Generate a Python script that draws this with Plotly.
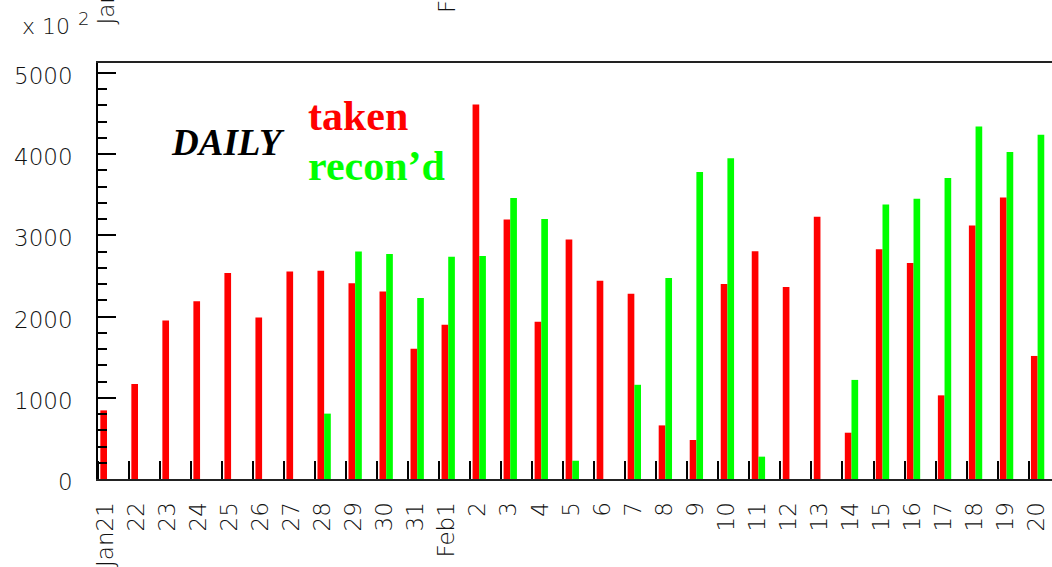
import plotly.graph_objects as go

# Day labels along the time axis
day_labels = ["Jan21", "22", "23", "24", "25", "26", "27", "28", "29", "30", "31",
              "Feb1", "2", "3", "4", "5", "6", "7", "8", "9", "10",
              "11", "12", "13", "14", "15", "16", "17", "18", "19", "20"]

# Daily counts (axis units of x 10^2)
taken = [845, 1170, 1950, 2190, 2535, 1990, 2555, 2565, 2410, 2310, 1605,
         1900, 4610, 3195, 1935, 2950, 2440, 2280, 660, 480, 2400,
         2805, 2365, 3230, 570, 2830, 2660, 1030, 3120, 3465, 1515]
recond = [0, 0, 0, 0, 0, 0, 0, 805, 2800, 2770, 2230,
          2735, 2745, 3460, 3200, 225, 0, 1160, 2475, 3780, 3950,
          275, 0, 0, 1220, 3380, 3450, 3705, 4340, 4025, 4240]

y_ticks = [0, 1000, 2000, 3000, 4000, 5000]

W, H = 1052, 567
ML, MR, MT, MB = 98, 0, 63, 84
PW, PH = W - ML - MR, H - MT - MB
BIN_PX = 31.02          # pixel width of one day bin
X_MAX = PW / BIN_PX
Y_MAX = 5122

BAR_W = 0.215
RED_OFF = 0.075 + BAR_W / 2
GREEN_OFF = 0.075 + BAR_W * 1.5
LABEL_OFF = 0.25

idx = list(range(len(day_labels)))

THIN = "DejaVu Sans ExtraLight, DejaVu Sans"
TICK_FONT = dict(family=THIN, size=23, color="#111", weight=200)


def px(xp):
    return (xp - ML) / PW


def py(yp):
    return (MT + PH - yp) / PH


fig = go.Figure()
fig.add_trace(go.Bar(x=[i + RED_OFF for i in idx], y=taken, width=BAR_W,
                     marker=dict(color="#ff0000", line=dict(width=0)), name="taken"))
fig.add_trace(go.Bar(x=[i + GREEN_OFF for i in idx], y=recond, width=BAR_W,
                     marker=dict(color="#00ff00", line=dict(width=0)), name="recon'd"))

fig.update_layout(
    width=W, height=H,
    margin=dict(l=ML, r=MR, t=MT, b=MB, pad=0),
    paper_bgcolor="white", plot_bgcolor="white",
    barmode="overlay", showlegend=False,
    xaxis=dict(
        range=[0, X_MAX], showgrid=False, zeroline=False,
        showline=True, linecolor="#222", linewidth=2, mirror=True,
        tickvals=[i + LABEL_OFF for i in idx], ticktext=day_labels,
        ticks="", tickangle=-90, tickfont=TICK_FONT, ticklabelstandoff=12,
        minor=dict(tickvals=idx, ticks="inside", ticklen=18, tickwidth=1.6,
                   tickcolor="black", showgrid=False),
    ),
    yaxis=dict(
        range=[0, Y_MAX], showgrid=False, zeroline=False,
        showline=True, linecolor="black", linewidth=1.5, mirror=False,
        tickvals=y_ticks, ticktext=[str(v) for v in y_ticks],
        ticks="inside", ticklen=18, tickwidth=1.6, tickcolor="black",
        tickfont=TICK_FONT, ticklabelstandoff=19, ticklabelshift=3,
        minor=dict(dtick=200, ticks="inside", ticklen=9, tickwidth=1.6,
                   tickcolor="black", showgrid=False),
    ),
)

serif = "Liberation Serif, Times New Roman, serif"
fig.add_annotation(text="<b><i>DAILY</i></b>", xref="paper", yref="paper",
                   x=px(227.5), y=py(143), xanchor="center", yanchor="middle",
                   showarrow=False, font=dict(family=serif, size=37, color="black"))
fig.add_annotation(text="<b>taken</b>", xref="paper", yref="paper",
                   x=px(306), y=py(117), xanchor="left", yanchor="middle",
                   showarrow=False, font=dict(family=serif, size=42, color="#ff0000"))
fig.add_annotation(text="<b>recon’d</b>", xref="paper", yref="paper",
                   x=px(306), y=py(167), xanchor="left", yanchor="middle",
                   showarrow=False, font=dict(family=serif, size=42, color="#00ff00"))

# exponent of the y axis
fig.add_annotation(text="x 10", xref="paper", yref="paper",
                   x=px(20), y=py(26), xanchor="left", yanchor="middle",
                   showarrow=False, font=dict(family=THIN, size=22, color="#111", weight=200))
fig.add_annotation(text="2", xref="paper", yref="paper",
                   x=px(76), y=py(18), xanchor="left", yanchor="middle",
                   showarrow=False, font=dict(family=THIN, size=18, color="#111", weight=200))

# month labels repeated above the frame
for lab, day, bottom in [("Jan21", 0, 26), ("Feb1", 11, 14)]:
    fig.add_annotation(text=lab, xref="x", yref="paper",
                       x=day + LABEL_OFF, y=py(bottom), xanchor="center", yanchor="bottom",
                       textangle=-90, showarrow=False, font=TICK_FONT)

fig.write_html("out.html")
